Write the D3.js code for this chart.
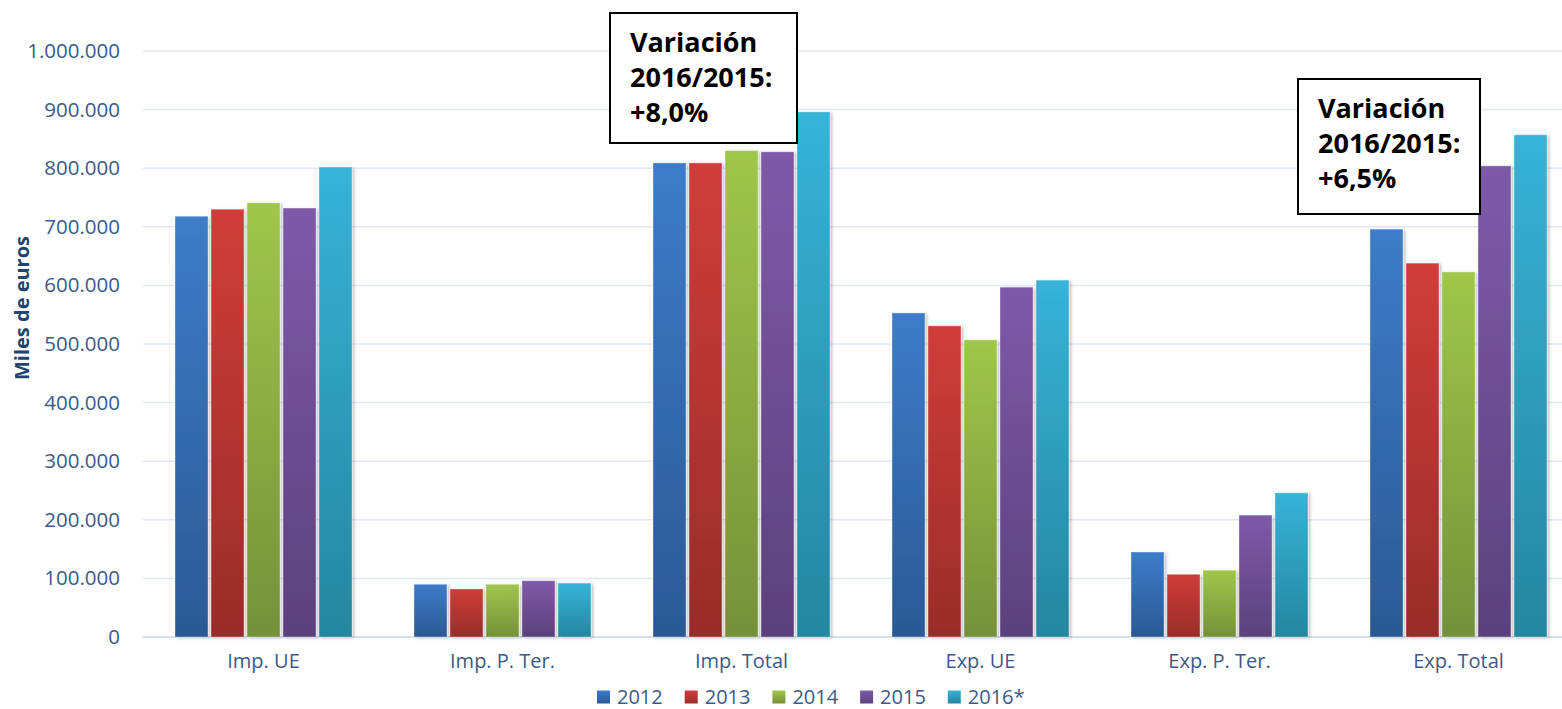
<!DOCTYPE html>
<html>
<head>
<meta charset="utf-8">
<script src="https://cdn.jsdelivr.net/npm/d3@7/dist/d3.min.js"></script>
<style>
  body { margin: 0; background: #fff; }
  svg { display: block; font-family: "Open Sans", sans-serif; }
</style>
</head>
<body>
<div id="chart-area"></div>
<script>
var categories = ["Imp. UE", "Imp. P. Ter.", "Imp. Total", "Exp. UE", "Exp. P. Ter.", "Exp. Total"];
var years = ["2012", "2013", "2014", "2015", "2016*"];
var v2012 = [718000, 90000, 809000, 553000, 145000, 696000];
var v2013 = [730000, 82000, 809000, 531000, 107000, 638000];
var v2014 = [741000, 90000, 830000, 507000, 114000, 623000];
var v2015 = [732000, 96000, 828000, 597000, 208000, 804000];
var v2016 = [802000, 92000, 896000, 609000, 246000, 857000];
var yTicks = [0, 100000, 200000, 300000, 400000, 500000, 600000, 700000, 800000, 900000, 1000000];
var notes = [
  { cat: "Imp. Total", lines: ["Variación", "2016/2015:", "+8,0%"] },
  { cat: "Exp. Total", lines: ["Variación", "2016/2015:", "+6,5%"] }
];

var seriesValues = [v2012, v2013, v2014, v2015, v2016];
var colorsTop = ["#3d7cc9", "#d03d3a", "#a0c64b", "#7e5aa9", "#37b3d7"];
var colorsBottom = ["#2b5993", "#982c2a", "#74913a", "#5b417c", "#2586a0"];

var W = 1562, H = 709;

var svg = d3
  .select("#chart-area")
  .append("svg")
  .attr("width", W)
  .attr("height", H);

var defs = svg.append("defs");
years.forEach(function (yr, i) {
  var g = defs
    .append("linearGradient")
    .attr("id", "grad" + i)
    .attr("x1", 0).attr("y1", 0).attr("x2", 0).attr("y2", 1);
  g.append("stop").attr("offset", "0%").attr("stop-color", colorsTop[i]);
  g.append("stop").attr("offset", "100%").attr("stop-color", colorsBottom[i]);
});
var shadow = defs.append("filter").attr("id", "shadow")
  .attr("x", "-20%").attr("y", "-5%").attr("width", "150%").attr("height", "115%");
shadow.append("feDropShadow")
  .attr("dx", 2).attr("dy", 1).attr("stdDeviation", 1.5)
  .attr("flood-color", "#000").attr("flood-opacity", 0.25);

var x0 = d3.scaleBand().domain(categories).range([144, 1578]);
var x1 = d3.scaleBand().domain(years).range([31, 208]).paddingInner(3 / 36);
var y = d3.scaleLinear().domain([0, 1000000]).range([637, 51]);

var es = d3.formatLocale({ decimal: ",", thousands: ".", grouping: [3], currency: ["", " €"] });
var fmt = es.format(",d");

// grid lines
svg.append("g")
  .selectAll("line")
  .data(yTicks)
  .join("line")
  .attr("x1", 143)
  .attr("x2", W)
  .attr("y1", function (d) { return y(d); })
  .attr("y2", function (d) { return y(d); })
  .attr("stroke", function (d) { return d === 0 ? "#d6e1ef" : "#dfe8f4"; })
  .attr("stroke-width", function (d) { return d === 0 ? 2 : 1.5; });

// y axis labels
var yAxis = d3.axisLeft(y).tickValues(yTicks).tickFormat(fmt).tickSize(0).tickPadding(0);
var gy = svg.append("g").attr("transform", "translate(120,0)").call(yAxis);
gy.select(".domain").remove();
gy.selectAll("text")
  .attr("font-family", "'Open Sans', sans-serif")
  .attr("font-size", "20.5px")
  .attr("fill", "#3b5a8a");

// x axis labels
var xAxis = d3.axisBottom(x0).tickSize(0).tickPadding(0);
var gx = svg.append("g").attr("transform", "translate(0,654)").call(xAxis);
gx.select(".domain").remove();
gx.selectAll("text")
  .attr("font-family", "'Open Sans', sans-serif")
  .attr("font-size", "20px")
  .attr("fill", "#3b5a8a");

svg.append("text")
  .attr("transform", "translate(29,308) rotate(-90)")
  .attr("text-anchor", "middle")
  .attr("font-size", "20px")
  .attr("font-weight", "bold")
  .attr("fill", "#23436f")
  .text("Miles de euros");

// bars
var groups = svg.append("g")
  .selectAll("g")
  .data(categories)
  .join("g")
  .attr("transform", function (d) { return "translate(" + x0(d) + ",0)"; });

groups.selectAll("rect")
  .data(function (d, ci) {
    return years.map(function (yr, si) {
      return { year: yr, si: si, value: seriesValues[si][ci] };
    });
  })
  .join("rect")
  .attr("x", function (d) { return x1(d.year); })
  .attr("width", x1.bandwidth())
  .attr("y", function (d) { return y(d.value); })
  .attr("height", function (d) { return y(0) - y(d.value); })
  .attr("fill", function (d) { return "url(#grad" + d.si + ")"; })
  .attr("stroke", "rgba(255,255,255,0.35)")
  .attr("stroke-width", 1)
  .attr("filter", "url(#shadow)");

// annotation boxes
var boxes = [
  { x: 610, y: 13, w: 187, h: 130 },
  { x: 1298, y: 79, w: 182, h: 135 }
];
notes.forEach(function (n, i) {
  var b = boxes[i];
  var g = svg.append("g").attr("transform", "translate(" + b.x + "," + b.y + ")");
  g.append("rect")
    .attr("width", b.w)
    .attr("height", b.h)
    .attr("fill", "#fff")
    .attr("stroke", "#000")
    .attr("stroke-width", 2);
  g.selectAll("text")
    .data(n.lines)
    .join("text")
    .attr("x", 20)
    .attr("y", function (d, k) { return 39 + k * 35; })
    .attr("font-size", "27px")
    .attr("font-weight", "bold")
    .attr("fill", "#000")
    .text(function (d) { return d; });
});

// legend
var legend = svg.append("g")
  .selectAll("g")
  .data(years)
  .join("g")
  .attr("transform", function (d, i) { return "translate(" + (597 + i * 87.7) + ",697)"; });
legend.append("rect")
  .attr("y", -6.5)
  .attr("width", 13)
  .attr("height", 13)
  .attr("fill", function (d, i) { return "url(#grad" + i + ")"; });
legend.append("text")
  .attr("x", 20)
  .attr("y", 7)
  .attr("font-size", "20px")
  .attr("fill", "#3b5a8a")
  .text(function (d) { return d; });
</script>
</body>
</html>
